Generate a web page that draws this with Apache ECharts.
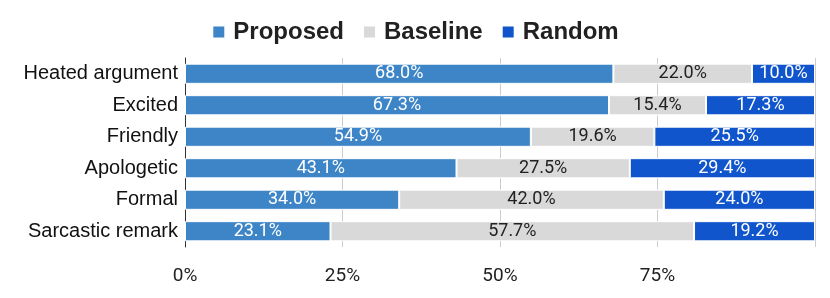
<!DOCTYPE html>
<html><head><meta charset="utf-8">
<script src="https://cdn.jsdelivr.net/npm/echarts@6/dist/echarts.min.js"></script>
<style>html,body{margin:0;padding:0;background:#fff}#c{width:830px;height:298px}</style>
</head><body><div id="c"></div>
<script>
const categories = ["Heated argument","Excited","Friendly","Apologetic","Formal","Sarcastic remark"];
const proposed = [68.0, 67.3, 54.9, 43.1, 34.0, 23.1];
const baseline = [22.0, 15.4, 19.6, 27.5, 42.0, 57.7];
const random = [10.0, 17.3, 25.5, 29.4, 24.0, 19.2];
const xTicks = ["0%","25%","50%","75%"];

const SANS = "'Liberation Sans', Arial, sans-serif";
const chart = echarts.init(document.getElementById('c'));
function mk(name, data, color, lblColor){
  return {
    name, type:'bar', stack:'t', data, barCategoryGap:'36%',
    itemStyle:{color, borderColor:'#fff', borderWidth:1},
    label:{show:true, position:'inside', formatter:p=>p.value.toFixed(1)+'%',
      color:lblColor, fontFamily:'Roboto', fontSize:18},
    emphasis:{disabled:true}
  };
}
chart.setOption({
  animation:false,
  legend:{top:15, left:'center', itemWidth:13, itemHeight:13, itemGap:18, icon:'rect',
    textStyle:{fontFamily:SANS, fontWeight:'bold', fontSize:24, color:'#212121', padding:[0,0,0,3]}},
  grid:{left:185, right:15, top:58, bottom:51},
  xAxis:{type:'value', min:0, max:100, interval:25,
    axisLabel:{formatter:v=>{const i=v/25; return i<xTicks.length?xTicks[i]:'';}, fontFamily:'Roboto', fontSize:19, color:'#222', margin:20},
    splitLine:{lineStyle:{color:'#cccccc'}}, axisLine:{show:false}, axisTick:{show:false}},
  yAxis:{type:'category', data:categories, inverse:true,
    axisLine:{lineStyle:{color:'#333'}}, axisTick:{show:false},
    axisLabel:{fontFamily:SANS, fontSize:20, color:'#111', margin:7}},
  series:[mk('Proposed',proposed,'#3d85c6','#fff'), mk('Baseline',baseline,'#d9d9d9','#222'), mk('Random',random,'#1155cc','#fff')]
});
</script></body></html>
